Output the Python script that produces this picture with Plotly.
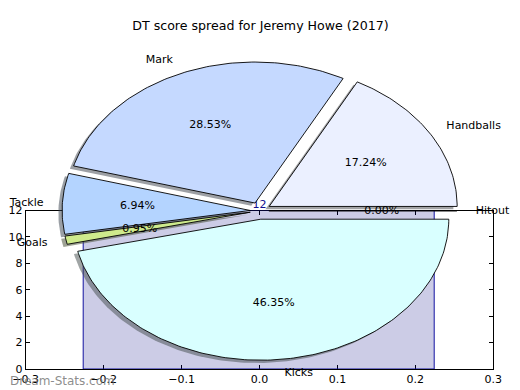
import numpy as np
import plotly.graph_objects as go

# ---------------- data ----------------
slice_labels = ["Handballs", "Mark", "Tackle", "Goals", "Kicks", "Hitout"]
slice_shares = [17.24, 28.53, 6.94, 0.95, 46.35, 0.00]
slice_colors = [(235, 240, 255), (197, 217, 255), (180, 212, 255),
                (206, 234, 140), (217, 255, 255), (240, 240, 240)]
slice_explode = [0.06, 0.06, 0.05, 0.05, 0.06, 0.05]

bar_x = [0.0]
bar_height = [12]
bar_width = 0.45

x_ticks = [-0.3, -0.2, -0.1, 0.0, 0.1, 0.2, 0.3]
x_tick_labels = ["\u22120.3", "\u22120.2", "\u22120.1", "0.0", "0.1", "0.2", "0.3"]
y_ticks = [0, 2, 4, 6, 8, 10, 12]
y_tick_labels = ["0", "2", "4", "6", "8", "10", "12"]

title_text = "DT score spread for Jeremy Howe (2017)"
watermark = "Dream-Stats.com"

FONT = "DejaVu Sans"
OFF = 8.0            # page body margin in the browser
W, H = 512, 382      # figure size so that figure + margin fills the window


def fx(px):
    """screen x pixel -> paper fraction"""
    return (px - OFF) / W


def fy(py):
    """screen y pixel -> paper fraction"""
    return (H - (py - OFF)) / H


fig = go.Figure()

# ---------------- bar axes (drawn first, below pie) ----------------
fig.add_trace(go.Bar(
    x=bar_x, y=bar_height, width=[bar_width] * len(bar_x),
    marker=dict(color="rgba(0,0,128,0.2)", line=dict(color="#1010a0", width=1)),
    xaxis="x", yaxis="y", showlegend=False, hoverinfo="skip"))
fig.add_trace(go.Scatter(
    x=bar_x, y=bar_height, mode="text", text=[str(v) for v in bar_height],
    textposition="top center", textfont=dict(family=FONT, size=11, color="#101090"),
    cliponaxis=False, xaxis="x", yaxis="y", showlegend=False, hoverinfo="skip"))

# ---------------- pie (elliptical, exploded, with shadows) ----------------
vals = np.array(slice_shares, dtype=float)
frac = vals / vals.sum()
starts = np.concatenate([[0.0], np.cumsum(frac)[:-1]]) * 360.0
ends = np.cumsum(frac) * 360.0

wedges = []
for lab, th1, th2, ex, col, share in zip(slice_labels, starts, ends, slice_explode,
                                          slice_colors, slice_shares):
    mid = np.deg2rad((th1 + th2) / 2.0)
    cx, cy = ex * np.cos(mid), ex * np.sin(mid)
    n = max(2, int(abs(th2 - th1) / 1.0) + 2)
    t = np.deg2rad(np.linspace(th1, th2, n))
    xs = np.concatenate([[cx], cx + np.cos(t), [cx]])
    ys = np.concatenate([[cy], cy + np.sin(t), [cy]])
    wedges.append((lab, xs, ys, col, cx, cy, mid, share))

# shadows first
for lab, xs, ys, col, cx, cy, mid, share in wedges:
    sc = tuple(int(0.3 * c) for c in col)
    fig.add_trace(go.Scatter(
        x=xs - 0.02, y=ys - 0.02, mode="lines", fill="toself",
        fillcolor="rgba(%d,%d,%d,0.5)" % sc, line=dict(width=0),
        xaxis="x2", yaxis="y2", showlegend=False, hoverinfo="skip"))
# wedges
for lab, xs, ys, col, cx, cy, mid, share in wedges:
    fig.add_trace(go.Scatter(
        x=xs, y=ys, mode="lines", fill="toself",
        fillcolor="rgb(%d,%d,%d)" % col, line=dict(color="black", width=0.9),
        xaxis="x2", yaxis="y2", showlegend=False, hoverinfo="skip"))

# labels
lx, ly, lpos, ltxt = [], [], [], []
px, py, ptxt = [], [], []
for lab, xs, ys, col, cx, cy, mid, share in wedges:
    xt = cx + 1.1 * np.cos(mid)
    yt = cy + 1.1 * np.sin(mid)
    lx.append(xt); ly.append(yt); ltxt.append(lab)
    lpos.append("middle right" if xt > 0 else "middle left")
    px.append(cx + 0.6 * np.cos(mid)); py.append(cy + 0.6 * np.sin(mid))
    ptxt.append("%.2f%%" % share)

fig.add_trace(go.Scatter(
    x=lx, y=ly, mode="text", text=ltxt, textposition=lpos,
    textfont=dict(family=FONT, size=11, color="black"), cliponaxis=False,
    xaxis="x2", yaxis="y2", showlegend=False, hoverinfo="skip"))
fig.add_trace(go.Scatter(
    x=px, y=py, mode="text", text=ptxt, textposition="middle center",
    textfont=dict(family=FONT, size=11, color="black"), cliponaxis=False,
    xaxis="x2", yaxis="y2", showlegend=False, hoverinfo="skip"))

# pie coordinate mapping (screen pixels): centre (259.5, 210.8), radii 188 x 141
pcx, pcy, rx, ry = 259.5 - OFF, 210.8 - OFF, 188.0, 141.0
x2_range = [-pcx / rx, (W - pcx) / rx]
y2_range = [-(H - pcy) / ry, pcy / ry]

ax_left, ax_right, ax_top, ax_bottom = 25.7, 493.3, 210.5, 369.0

fig.update_layout(
    width=W, height=H,
    margin=dict(l=0, r=0, t=0, b=0),
    paper_bgcolor="white", plot_bgcolor="rgba(0,0,0,0)",
    template="none",
    showlegend=False,
    font=dict(family=FONT, size=11, color="black"),
    bargap=0,
    title=dict(text=title_text, x=fx(260.5), xanchor="center", y=fy(25.5),
               yanchor="middle", yref="paper", xref="paper",
               font=dict(family=FONT, size=12.6, color="black")),
    xaxis=dict(domain=[fx(ax_left), fx(ax_right)], range=[-0.3, 0.3],
               anchor="y", tickvals=x_ticks, ticktext=x_tick_labels,
               ticks="inside", ticklen=4, tickcolor="black", showline=True,
               linecolor="black", linewidth=1, mirror="ticks", showgrid=False,
               zeroline=False, layer="below traces", automargin=False,
               tickfont=dict(family=FONT, size=11)),
    yaxis=dict(domain=[fy(ax_bottom), fy(ax_top)], range=[0, 12],
               anchor="x", tickvals=y_ticks, ticktext=y_tick_labels,
               ticks="inside", ticklen=4, tickcolor="black", showline=True,
               linecolor="black", linewidth=1, mirror="ticks", showgrid=False,
               zeroline=False, layer="below traces", automargin=False,
               tickfont=dict(family=FONT, size=11)),
    xaxis2=dict(domain=[0, 1], range=x2_range, anchor="y2", visible=False,
                fixedrange=True),
    yaxis2=dict(domain=[0, 1], range=y2_range, anchor="x2", visible=False,
                fixedrange=True),
    annotations=[dict(text=watermark, x=fx(8), y=fy(380.5), xref="paper",
                      yref="paper", xanchor="left", yanchor="middle",
                      showarrow=False,
                      font=dict(family=FONT, size=12, color="rgba(120,120,120,0.85)"))],
)

fig.write_html("out.html")
